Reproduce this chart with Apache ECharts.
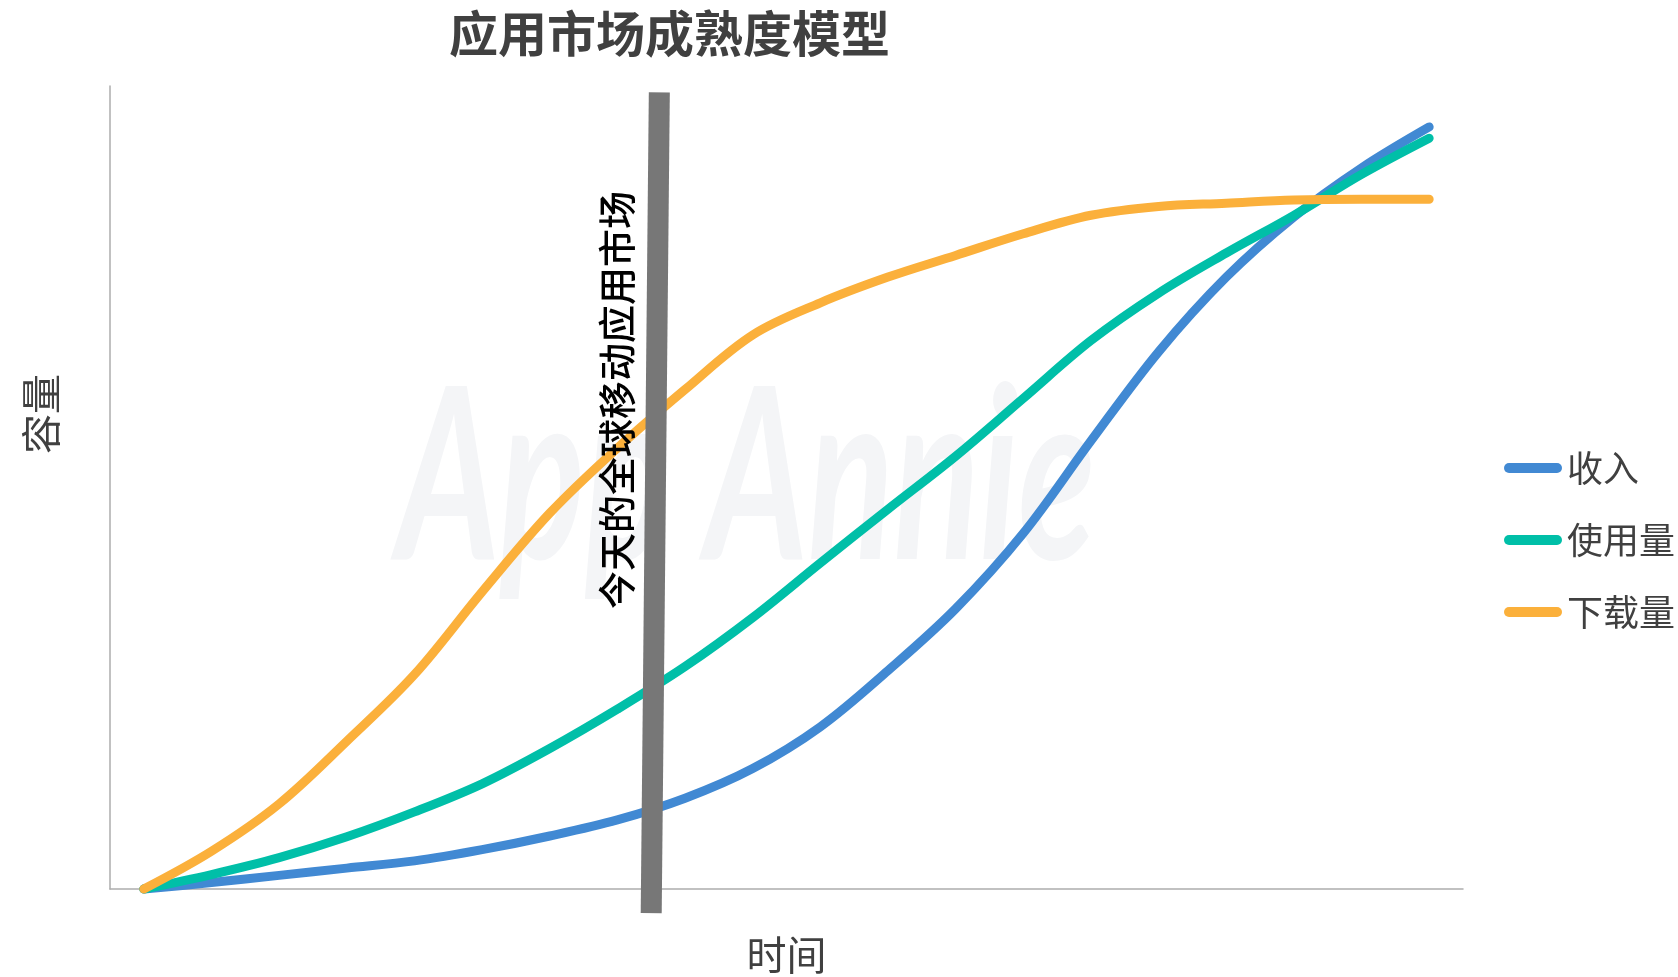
<!DOCTYPE html>
<html><head><meta charset="utf-8">
<script src="https://cdn.jsdelivr.net/npm/echarts@6/dist/echarts.min.js"></script>
<style>html,body{margin:0;padding:0;background:#fff}#chart{width:1678px;height:977px}</style>
</head><body><div id="chart"></div>
<script>
// time positions (abstract 0-100 timeline)
const timePoints = [2.5,7.5,12.5,17.5,22.5,27.5,32.5,37.5,42.5,47.5,52.5,57.5,62.5,67.5,72.5,77.5,82.5,87.5,92.5,97.5];
// volume (abstract 0-100)
const revenue   = [0,0.8,1.7,2.6,3.5,4.9,6.6,8.6,11.3,15.0,20.2,27.2,34.9,44.3,55.8,66.9,76.2,83.7,89.8,94.9];
const usage     = [0,1.8,3.9,6.5,9.6,13.1,17.5,22.4,27.7,33.8,40.6,47.3,53.9,61.1,68.3,74.2,79.2,83.9,89.0,93.5];
const downloads = [0,4.7,10.6,18.4,26.7,37.0,46.8,54.9,62.2,69.0,73.0,76.2,78.9,81.6,83.9,85.0,85.4,85.8,85.9,85.9];
const seriesNames = ['收入','使用量','下载量'];
const seriesColors = ['#4189d3','#00bfa8','#fbb03b'];
// "today" marker: [time, volume] endpoints
const todayMarker = [[40.0,-3.0],[40.6,99.2]];
const todayLabel = '今天的全球移动应用市场';
const titleText = '应用市场成熟度模型';
const xName = '时间';
const yName = '容量';
const watermark = 'App Annie';

const FONT = '"Noto Sans CJK SC","Noto Sans",sans-serif';
const chart = echarts.init(document.getElementById('chart'), null, {renderer:'canvas'});

function zip(xs, ys){ return xs.map((x,i)=>[x, ys[i]]); }
const valueSets = [revenue, usage, downloads];

const curveSeries = seriesNames.map((n,i)=>({
  name: n,
  type: 'line',
  data: zip(timePoints, valueSets[i]),
  smooth: 0.35,
  symbol: 'none',
  clip: false,
  color: seriesColors[i],
  lineStyle: {width: 9, color: seriesColors[i], cap: 'round', join: 'round'},
  itemStyle: {color: seriesColors[i]},
  z: 3 + i
}));

const option = {
  animation: false,
  backgroundColor: '#ffffff',
  textStyle: {fontFamily: FONT},
  title: {
    text: titleText, left: 449, top: 9, padding: 0,
    textStyle: {fontSize: 49, fontWeight: 'bold', color: '#404040', fontFamily: FONT}
  },
  legend: {
    orient: 'vertical', left: 1499, top: 445,
    itemWidth: 58, itemHeight: 10, itemGap: 36,
    icon: 'path://M5 0H53A5 5 0 0 1 53 10H5A5 5 0 0 1 5 0Z',
    data: seriesNames,
    textStyle: {fontSize: 36, color: '#404040', fontFamily: FONT}
  },
  grid: {left: 110, right: 215, top: 86, bottom: 88, containLabel: false, outerBoundsMode: 'none'},
  xAxis: {
    type: 'value', min: 0, max: 100,
    name: xName, nameLocation: 'middle', nameGap: 46,
    nameTextStyle: {fontSize: 40, color: '#404040', fontFamily: FONT},
    axisLine: {show: true, lineStyle: {color: '#adadad', width: 1.5}},
    axisTick: {show: false}, axisLabel: {show: false}, splitLine: {show: false}
  },
  yAxis: {
    type: 'value', min: 0, max: 100,
    axisLine: {show: true, lineStyle: {color: '#adadad', width: 1.5}},
    axisTick: {show: false}, axisLabel: {show: false}, splitLine: {show: false}
  },
  graphic: [
    {type: 'text', x: 746, y: 482, scaleX: 0.66, z: 0, silent: true,
     style: {text: watermark, fontSize: 240, fontStyle: 'italic', fontWeight: 'bold', fontFamily: 'Lato', fill: '#f4f5f7', align: 'center', verticalAlign: 'middle'}},
    {type: 'text', x: 617, y: 400, rotation: Math.PI/2, z: 100, silent: true,
     style: {text: todayLabel, fontSize: 38, fontWeight: 500, fontFamily: FONT, fill: '#000000', align: 'center', verticalAlign: 'middle'}},
    {type: 'text', x: 41, y: 414, rotation: Math.PI/2, z: 100, silent: true,
     style: {text: yName, fontSize: 40, fontFamily: FONT, fill: '#404040', align: 'center', verticalAlign: 'middle'}}
  ],
  series: curveSeries.concat([{
    name: 'today', type: 'line', data: todayMarker, symbol: 'none', clip: false, silent: true,
    lineStyle: {width: 21, color: '#777777', cap: 'butt'}, z: 10
  }])
};
chart.setOption(option);
</script></body></html>
